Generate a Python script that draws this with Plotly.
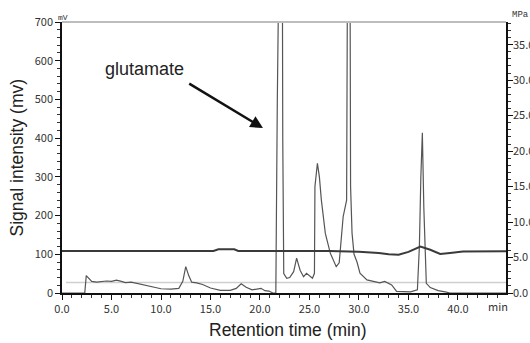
import plotly.graph_objects as go

# Chromatogram signal (mV) vs retention time (min)
signal_time = [0, 2.3, 2.45, 2.7, 3.0, 3.5, 4.0, 4.5, 5.0, 5.5, 6.0, 6.4, 7.0, 7.5, 8.0, 9.0, 10.0, 11.0, 11.8,
               12.2, 12.5, 12.8, 13.1, 13.6, 14.2, 15.0, 16.0, 17.0, 17.6, 18.1, 18.6, 19.2, 19.7, 20.1, 20.5,
               20.9, 21.3, 21.6, 21.75, 21.85, 22.2, 22.3, 22.4, 22.7, 23.0, 23.4, 23.7, 24.05, 24.4, 24.7, 25.05,
               25.3, 25.5, 25.55, 25.8, 26.0, 26.2, 26.6, 27.1, 27.7, 28.0, 28.4, 28.75, 28.93, 29.03, 29.15, 29.3,
               29.5, 29.8, 30.1, 30.8, 31.5, 32.1, 32.6, 33.3, 33.8, 34.5, 35.2, 35.9, 36.1, 36.25, 36.4, 36.55,
               36.8, 37.2, 37.6, 38.0, 38.7, 39.2, 44.85]
signal_mv = [0, 0, 45, 38, 30, 28, 29, 31, 30, 33, 30, 27, 28, 25, 21, 15, 11, 10, 12,
             30, 68, 45, 28, 26, 22, 13, 7, 7, 12, 24, 15, 8, 10, 12, 6,
             5, 0, 0, 500, 1500, 1500, 400, 50, 38, 40, 55, 90, 59, 42, 51, 42,
             38, 51, 275, 335, 300, 240, 154, 103, 68, 78, 197, 240, 1500, 1500, 275, 154,
             100, 80, 51, 34, 30, 26, 30, 21, 4, 3, 3, 8, 120, 300, 414, 220,
             25, 14, 9, 6, 3, 0, 0]

# Column pressure (MPa)
pressure_time = [0, 15.3, 15.8, 17.4, 17.8, 22, 27, 30, 32, 33, 34, 35, 36.2, 37.2, 38.2, 39.2, 40.5, 44.85]
pressure_mpa = [5.92, 5.92, 6.15, 6.15, 5.92, 5.95, 5.92, 5.8, 5.65, 5.45, 5.38, 5.8, 6.55, 6.1, 5.5, 5.65, 5.85, 5.88]

# Light reference line (mV)
ref_time = [0.4, 44.85]
ref_mv = [27, 27]

x_ticks = [0, 5, 10, 15, 20, 25, 30, 35, 40]
y_ticks = [0, 100, 200, 300, 400, 500, 600, 700]
y2_ticks = [0, 5, 10, 15, 20, 25, 30, 35]

tick_font = dict(family="Noto Sans CJK JP", size=11, color="#333")

fig = go.Figure()
fig.add_trace(go.Scatter(x=ref_time, y=ref_mv, mode="lines",
                         line=dict(color="#cfcfcf", width=1.5), hoverinfo="skip"))
fig.add_trace(go.Scatter(x=pressure_time, y=pressure_mpa, mode="lines", yaxis="y2",
                         line=dict(color="#3a3a3a", width=2), hoverinfo="skip"))
fig.add_trace(go.Scatter(x=signal_time, y=signal_mv, mode="lines",
                         line=dict(color="#555", width=1.2), hoverinfo="skip"))

fig.update_layout(
    width=530, height=343,
    margin=dict(l=62, r=24, t=22, b=50, autoexpand=False),
    plot_bgcolor="white", paper_bgcolor="white",
    showlegend=False,
    xaxis=dict(range=[0, 44.85], tickvals=x_ticks, tickformat=".1f", showgrid=False, zeroline=False,
               automargin=False,
               showline=True, linecolor="#111", linewidth=1.5, ticks="outside", ticklen=5,
               tickcolor="#111", tickfont=tick_font,
               minor=dict(dtick=1, ticks="outside", ticklen=3, tickcolor="#333")),
    yaxis=dict(range=[0, 700], tickvals=y_ticks, showgrid=False, zeroline=False, automargin=False,
               showline=True, linecolor="#111", linewidth=1.5, ticks="outside", ticklen=5,
               tickcolor="#111", tickfont=tick_font,
               minor=dict(dtick=20, ticks="outside", ticklen=3, tickcolor="#333")),
    yaxis2=dict(range=[0, 38.2], tickvals=y2_ticks, tickformat=".1f", overlaying="y", side="right",
                automargin=False, ticklabelstandoff=-2,
                showgrid=False, zeroline=False, showline=True, linecolor="#111", linewidth=1.5,
                ticks="outside", ticklen=5, tickcolor="#111", tickfont=tick_font,
                minor=dict(dtick=1, ticks="outside", ticklen=3, tickcolor="#333")),
)

fig.add_shape(type="line", xref="paper", yref="paper", x0=0, x1=1, y0=1, y1=1,
              line=dict(color="#bdbdbd", width=2))

title_font = dict(family="Liberation Sans", size=17.5, color="#222")
fig.add_annotation(text="Signal intensity (mv)", xref="paper", yref="paper", x=0, y=0.5,
                   xanchor="center", yanchor="middle", xshift=-46, textangle=-90,
                   showarrow=False, font=title_font)
fig.add_annotation(text="Retention time (min)", xref="paper", yref="paper", x=0.509, y=0,
                   xanchor="center", yanchor="middle", yshift=-37, showarrow=False, font=title_font)
fig.add_annotation(text="min", xref="x", yref="paper", x=44.0, y=0, xanchor="center",
                   yanchor="middle", yshift=-13, showarrow=False, font=tick_font)
fig.add_annotation(text="mV", xref="paper", yref="paper", x=0, y=1, xanchor="center",
                   yanchor="middle", xshift=1, yshift=5, showarrow=False,
                   font=dict(family="Liberation Mono", size=8, color="#333"))
fig.add_annotation(text="MPa", xref="paper", yref="paper", x=1, y=1, xanchor="left",
                   yanchor="middle", xshift=4, yshift=7, showarrow=False,
                   font=dict(family="Liberation Mono", size=9, color="#333"))
fig.add_annotation(text="glutamate", xref="x", yref="y", x=8.3, y=578, showarrow=False,
                   font=dict(family="Liberation Sans", size=18, color="#222"))
fig.add_annotation(text="", xref="x", yref="y", x=20.3, y=426, axref="x", ayref="y",
                   ax=12.7, ay=543, showarrow=True, arrowhead=2, arrowsize=1.0,
                   arrowwidth=2.5, arrowcolor="#111")

# remove the page's default body margin so the 530x343 figure fills the window exactly
fig.write_html("out.html",
               config={"displayModeBar": False},
               post_script="document.body.style.margin='0';document.body.style.overflow='hidden';")
